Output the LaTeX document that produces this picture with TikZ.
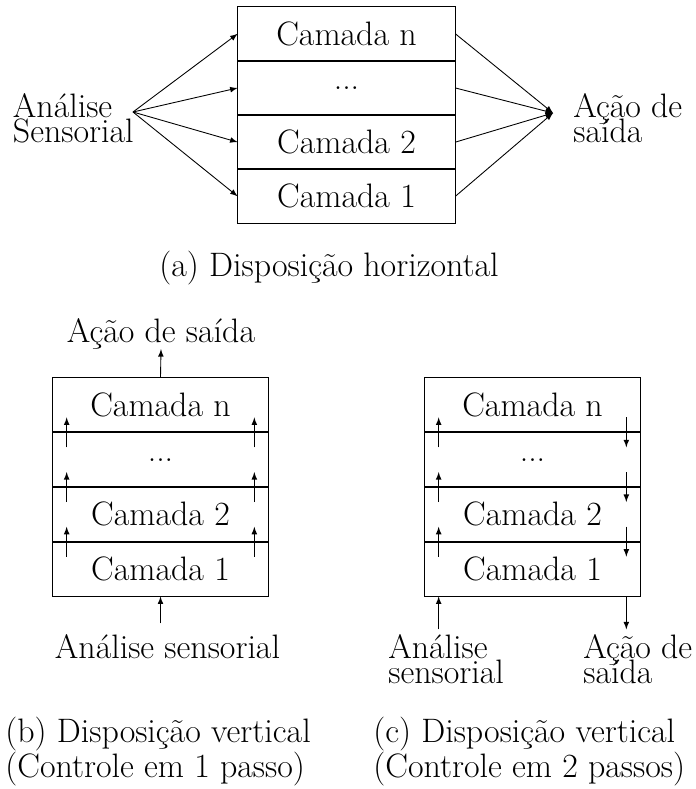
\documentclass[tikz,border=0pt]{standalone}
\usepackage{tikz}
\usetikzlibrary{positioning}
\newcommand{\lblfont}{\fontsize{19.3}{14.3}\selectfont\lineskiplimit=-20pt}
\newcommand{\capfont}{\fontsize{19.3}{18.2}\selectfont}
\tikzset{%
  layer/.style={rectangle, minimum width=4.3cm, minimum height=1.08cm, inner sep=0pt, align=center, font=\lblfont},
  toplayer/.style={layer, minimum width=4.34cm, minimum height=1.07cm},
  sidetext/.style={inner sep=0pt, align=left, font=\lblfont},
  caption/.style={inner sep=0pt, align=left, font=\capfont},
  boxline/.style={line width=0.6pt},
  separator/.style={line width=1.2pt},
  flow/.style={-latex, line width=0.5pt}}

\begin{document}
\begin{tikzpicture}[x=0.02cm, y=-0.02cm]
    \useasboundingbox (0,0) rectangle (696,789);

    %(a) Nodes
    \node[toplayer] (h-n) at (346.5,33.75) {Camada n};
    \node[toplayer] (h-dots) [below=0pt of h-n] {...};
    \node[toplayer] (h-2) [below=0pt of h-dots] {Camada 2};
    \node[toplayer] (h-1) [below=0pt of h-2] {Camada 1};
    \node[sidetext, anchor=north east] (h-in) at (134,93) {Análise\\Sensorial};
    \node[sidetext, anchor=north west] (h-out) at (573,93) {Ação de\\saída};
    \coordinate (h-src) at (133,112);
    \coordinate (h-dst) at (553,113);
    \node[caption, anchor=base] (cap-a) at (329,276) {(a) Disposição horizontal};

    %(a) Lines
    \draw[boxline] (h-n.north west) rectangle (h-1.south east);
    \foreach \l in {n,dots,2}
        \draw[separator] (h-\l.south west) -- (h-\l.south east);
    \foreach \l in {n,dots,2,1} {
        \draw[flow] (h-src) -- (h-\l.west);
        \draw[flow] (h-\l.east) -- (h-dst);
    }

    %(b) Nodes
    \node[layer] (b-n) at (160.5,405) {Camada n};
    \node[layer] (b-dots) [below=0pt of b-n] {...};
    \node[layer] (b-2) [below=0pt of b-dots] {Camada 2};
    \node[layer] (b-1) [below=0pt of b-2] {Camada 1};
    \node[sidetext, anchor=base] (b-out) at (161,342) {Ação de saída};
    \node[sidetext, anchor=north] (b-in) at (167.5,634) {Análise sensorial};
    \node[caption, anchor=north west] (cap-b) at (5,716.3) {(b) Disposição vertical\\(Controle em 1 passo)};

    %(b) Lines
    \draw[boxline] (b-n.north west) rectangle (b-1.south east);
    \foreach \l in {n,dots,2} {
        \draw[separator] (b-\l.south west) -- (b-\l.south east);
        \draw[flow] ([xshift=0.28cm, yshift=-0.3cm]b-\l.south west) -- ([xshift=0.28cm, yshift=0.3cm]b-\l.south west);
        \draw[flow] ([xshift=-0.28cm, yshift=-0.3cm]b-\l.south east) -- ([xshift=-0.28cm, yshift=0.3cm]b-\l.south east);
    }
    \draw[flow] (b-n.north) -- (b-out.south);
    \draw[flow] ([yshift=-0.54cm]b-1.south) -- (b-1.south);

    %(c) Nodes
    \node[layer] (c-n) at (532.5,405) {Camada n};
    \node[layer] (c-dots) [below=0pt of c-n] {...};
    \node[layer] (c-2) [below=0pt of c-dots] {Camada 2};
    \node[layer] (c-1) [below=0pt of c-2] {Camada 1};
    \node[sidetext, anchor=north west] (c-in) at (388,634) {Análise\\sensorial};
    \node[sidetext, anchor=north west] (c-out) at (583,634) {Ação de\\saída};
    \node[caption, anchor=north west] (cap-c) at (373,716.3) {(c) Disposição vertical\\(Controle em 2 passos)};

    %(c) Lines
    \draw[boxline] (c-n.north west) rectangle (c-1.south east);
    \foreach \l in {n,dots,2} {
        \draw[separator] (c-\l.south west) -- (c-\l.south east);
        \draw[flow] ([xshift=0.28cm, yshift=-0.3cm]c-\l.south west) -- ([xshift=0.28cm, yshift=0.3cm]c-\l.south west);
        \draw[flow] ([xshift=-0.28cm, yshift=0.3cm]c-\l.south east) -- ([xshift=-0.28cm, yshift=-0.3cm]c-\l.south east);
    }
    \draw[flow] ([xshift=0.28cm, yshift=-0.66cm]c-1.south west) -- ([xshift=0.28cm]c-1.south west);
    \draw[flow] ([xshift=-0.28cm]c-1.south east) -- ([xshift=-0.28cm, yshift=-0.66cm]c-1.south east);
\end{tikzpicture}
\end{document}
